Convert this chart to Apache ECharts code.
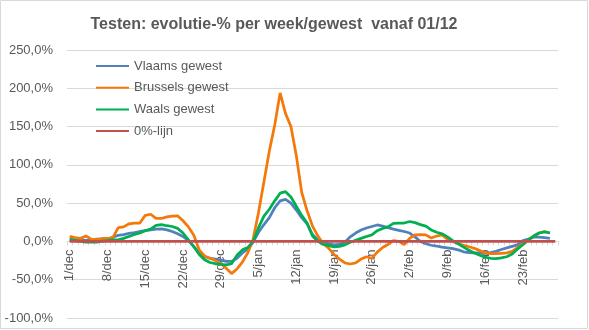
<!DOCTYPE html>
<html><head><meta charset="utf-8">
<script src="https://cdn.jsdelivr.net/npm/echarts@6/dist/echarts.min.js"></script>
<style>html,body{margin:0;padding:0;background:#fff}#c{width:589px;height:330px}</style>
</head><body><div id="c"></div>
<script>
// categories: 1/dec .. 1/mar (daily)
const monthNames = ['dec', 'jan', 'feb', 'mar'];
const monthDays = [31, 31, 28, 1];
const categories = [];
monthNames.forEach((m, k) => { for (let d = 1; d <= monthDays[k]; d++) categories.push(d + '/' + m); });

const yTicks = [-100, -50, 0, 50, 100, 150, 200, 250];

const vlaams = [3,2,2,1.5,2,3,3.5,3.5,5.5,8,9,10.5,11.5,13,14,15,16,16.5,15,13,10,6.5,1,-6.5,-15,-20,-22,-23,-24,-26,-26,-22,-15,-10,-1,12,22,31,44,53,55,50,41,31,23,9,2,-1,-3,-4.5,-4,-1,6,11,15,17.5,19.5,21.5,20,18,16,14.5,13,11,6,0,-3,-5,-6,-7.5,-8.5,-9.5,-11,-13.5,-14.5,-15,-15,-15,-14.5,-13,-10.5,-8.5,-6.5,-4.5,1,3,5.5,5.5,5,4];
const brussel = [6.5,5,4,7,3,2.5,3.5,3.5,5,18,19,23,24,24,34,35.5,30,30,32,33,33.5,27,19,8,-11,-19,-22,-25,-29,-35,-42,-36,-27,-15,3,38,78,118,152,194,167,150,112,64,40,20,7,-3,-9,-17,-23,-28,-29.5,-28,-23,-20,-22,-14,-8,-4,1,0,-4,4,8.5,9,8.5,4.5,7,8.5,3,0,-3,-5,-7,-9,-12,-15,-16,-16,-15.5,-15,-13,-8,-4,2,7,11,13,11];
const waals = [2,1,0,-1,-1,-1,0.5,1,2,2,4,6.5,9,11,14,16,21,22,20.5,19.5,17,11,2,-7,-17,-24,-27.5,-29,-30,-30.5,-29,-18,-11,-8,0,18,33,42,53,63,65,58,46,34,24,7,0,-4,-5.5,-7,-6.5,-4.5,-1,1.5,4,6.5,8.5,14,17,19,23.5,24,24,26,24.5,22,20,15,12,10,6,1,-3,-7.5,-11.5,-15,-18,-20.5,-22,-22.5,-21.5,-20,-16.5,-10,-4,2,7,11,12.5,11];
const nulLijn = categories.map(() => 0);

const FONT = 'Liberation Sans, Arial, sans-serif';
const TXT = '#595959';

const GRID = {left: 67, right: 31, top: 50, bottom: 12};
const plotH = 330 - GRID.top - GRID.bottom;
const yMin = yTicks[0], yMax = yTicks[yTicks.length - 1];
const zeroOffset = -plotH * (0 - yMin) / (yMax - yMin); // move category axis up to the 0 line

const chart = echarts.init(document.getElementById('c'), null, {renderer: 'canvas'});
function mk(name, data, color) {
  return {name, type: 'line', data, symbol: 'none', showSymbol: false, smooth: false,
    lineStyle: {color, width: 2.75}, itemStyle: {color}};
}
chart.setOption({
  animation: false,
  backgroundColor: '#fff',
  title: {
    text: 'Testen: evolutie-% per week/gewest  vanaf 01/12',
    left: 269, top: 12, textAlign: 'center',
    textStyle: {fontFamily: FONT, fontSize: 16, fontWeight: 'bold', color: TXT}
  },
  graphic: [{type: 'rect', silent: true, shape: {x: 0.5, y: 0.5, width: 587, height: 328},
    style: {fill: 'none', stroke: '#d9d9d9', lineWidth: 1}}],
  legend: {
    orient: 'vertical', left: 90, top: 54.5, itemWidth: 33, itemHeight: 14, itemGap: 8.7,
    itemStyle: {opacity: 0},
    textStyle: {fontFamily: FONT, fontSize: 13, color: TXT},
    data: ['Vlaams gewest', 'Brussels gewest', 'Waals gewest', '0%-lijn']
  },
  grid: Object.assign({containLabel: false, outerBoundsMode: 'none'}, GRID),
  xAxis: {
    type: 'category', data: categories, boundaryGap: true, position: 'bottom', offset: zeroOffset,
    axisLine: {onZero: false, lineStyle: {color: '#d9d9d9'}},
    axisTick: {show: true, interval: 0, length: 4, lineStyle: {color: '#d9d9d9'}},
    axisLabel: {interval: 6, rotate: 90, margin: 8, fontFamily: FONT, fontSize: 13, color: TXT},
    splitLine: {show: false}
  },
  yAxis: {
    type: 'value', min: yMin, max: yMax, interval: 50,
    axisLine: {show: false}, axisTick: {show: false},
    axisLabel: {margin: 14, fontFamily: FONT, fontSize: 13, color: TXT,
      formatter: v => v.toFixed(1).replace('.', ',') + '%'},
    splitLine: {lineStyle: {color: '#d9d9d9', width: 1}}
  },
  series: [
    mk('Vlaams gewest', vlaams, '#4F81BD'),
    mk('Brussels gewest', brussel, '#F5780A'),
    mk('Waals gewest', waals, '#00B050'),
    mk('0%-lijn', nulLijn, '#C0504D')
  ]
});
</script></body></html>
